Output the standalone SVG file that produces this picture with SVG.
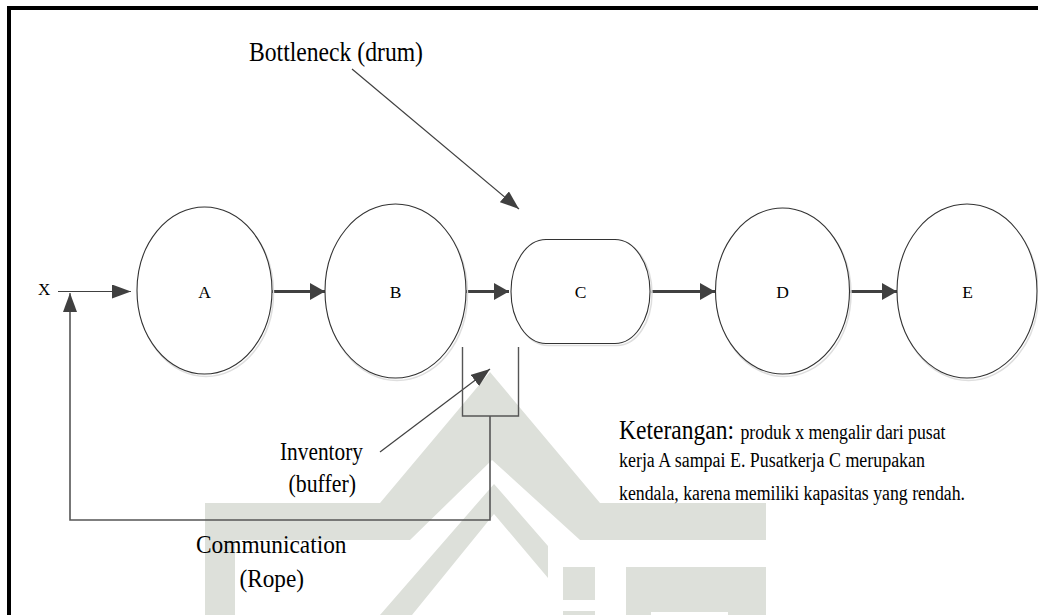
<svg xmlns="http://www.w3.org/2000/svg" width="1038" height="615" viewBox="0 0 1038 615">
<style>
text{font-family:"Liberation Serif","Times New Roman",serif;fill:#000}
.node{fill:#fff;stroke:#333;stroke-width:1.1}
.shadow{fill:none;stroke:#dedede;stroke-width:1.5}
.lbl{font-size:17.5px;text-anchor:middle}
.big{font-size:26px}
.flow{stroke:#404040;stroke-width:3;fill:none}
.thin{stroke:#404040;stroke-width:1.2;fill:none}
.rope{stroke:#555;stroke-width:1.6;fill:none}
.wm{fill:#dde0da}
</style>
<defs>
<marker id="ah" markerUnits="userSpaceOnUse" markerWidth="15" markerHeight="17" refX="15" refY="8.5" orient="auto"><path d="M0,0 L15,8.5 L0,17 Z" fill="#404040"/></marker>
<marker id="at" markerUnits="userSpaceOnUse" markerWidth="19" markerHeight="14" refX="19" refY="7" orient="auto"><path d="M0,0 L19,7 L0,14 Z" fill="#404040"/></marker>
</defs>
<rect width="1038" height="615" fill="#fff"/>
<g id="watermark">
<polygon class="wm" points="205,503 380,503 490,372 600,503 766,503 766,540 580,540 492,460 410,540 235,540 235,615 205,615"/>
<polygon class="wm" points="380,615 412,615 494,514 548,578 548,546 494,484"/>
<rect class="wm" x="563" y="567" width="32" height="33"/>
<rect class="wm" x="563" y="611" width="32" height="4"/>
<path class="wm" d="M626,567 H766 V615 H728 V612 H651 V615 H626 Z"/>
</g>
<path d="M9,615 V8 H1038" fill="none" stroke="#000" stroke-width="4"/>
<g id="connectors">
<line class="thin" x1="58" y1="291.5" x2="131" y2="291.5" marker-end="url(#at)"/>
<line class="flow" x1="272" y1="291.5" x2="325" y2="291.5" marker-end="url(#ah)"/>
<line class="flow" x1="466" y1="291.5" x2="509" y2="291.5" marker-end="url(#ah)"/>
<line class="flow" x1="651" y1="291.5" x2="715" y2="291.5" marker-end="url(#ah)"/>
<line class="flow" x1="850" y1="291.5" x2="897" y2="291.5" marker-end="url(#ah)"/>
<path class="rope" d="M490,416 V520 H70 V296"/>
<line class="thin" x1="70" y1="312" x2="70" y2="293" marker-end="url(#at)"/>
<line class="thin" x1="352" y1="69" x2="519" y2="209" marker-end="url(#at)"/>
<line class="thin" x1="380" y1="452" x2="490" y2="369" marker-end="url(#at)"/>
</g>
<g id="node-A">
<ellipse class="shadow" cx="206" cy="293" rx="67.5" ry="83.5"/>
<ellipse class="node" cx="204.5" cy="290.5" rx="67.5" ry="83.5"/>
<text class="lbl" x="204.5" y="297.5">A</text>
</g>
<g id="node-B">
<ellipse class="shadow" cx="397" cy="293.5" rx="70.5" ry="87"/>
<ellipse class="node" cx="395.5" cy="291" rx="70.5" ry="87"/>
<text class="lbl" x="395.5" y="297.5">B</text>
</g>
<g id="node-C">
<path class="shadow" d="M548,241.5 H617 A35,52 0 0 1 617,345.5 H548 A35,52 0 0 1 548,241.5 Z"/>
<path class="node" d="M546,239.5 H615 A35,52 0 0 1 615,343.5 H546 A35,52 0 0 1 546,239.5 Z"/>
<text class="lbl" x="580.5" y="297.5">C</text>
</g>
<g id="node-D">
<ellipse class="shadow" cx="784" cy="293.5" rx="67" ry="83"/>
<ellipse class="node" cx="782.5" cy="291" rx="67" ry="83"/>
<text class="lbl" x="782.5" y="297.5">D</text>
</g>
<g id="node-E">
<ellipse class="shadow" cx="968.5" cy="293.5" rx="70" ry="87"/>
<ellipse class="node" cx="967" cy="291" rx="70" ry="87"/>
<text class="lbl" x="967.5" y="297.5">E</text>
</g>
<g id="node-buffer">
<path d="M462.5,347 V416 H518.5 V347" fill="none" stroke="#555" stroke-width="1.4"/>
</g>
<g id="labels">
<text x="38" y="294.5" style="font-size:17px">X</text>
<text x="249" y="61" class="big" style="font-size:27px" textLength="174" lengthAdjust="spacingAndGlyphs">Bottleneck (drum)</text>
<text x="280" y="460" class="big" style="font-size:25px" textLength="83" lengthAdjust="spacingAndGlyphs">Inventory</text>
<text x="288.5" y="491.5" class="big" style="font-size:25px" textLength="67.5" lengthAdjust="spacingAndGlyphs">(buffer)</text>
<text x="196" y="552.5" class="big" style="font-size:26px" textLength="150.5" lengthAdjust="spacingAndGlyphs">Communication</text>
<text x="239.5" y="586.5" class="big" style="font-size:26px" textLength="64.5" lengthAdjust="spacingAndGlyphs">(Rope)</text>
<text x="619" y="438.5" style="font-size:27.5px" textLength="115" lengthAdjust="spacingAndGlyphs">Keterangan:</text>
<text x="740.5" y="438.5" style="font-size:20.5px" textLength="205" lengthAdjust="spacingAndGlyphs">produk x mengalir dari pusat</text>
<text x="619" y="467" style="font-size:20.5px" textLength="306" lengthAdjust="spacingAndGlyphs">kerja A sampai E. Pusatkerja C merupakan</text>
<text x="619" y="500" style="font-size:20.5px" textLength="346" lengthAdjust="spacingAndGlyphs">kendala, karena memiliki kapasitas yang rendah.</text>
</g>
</svg>
